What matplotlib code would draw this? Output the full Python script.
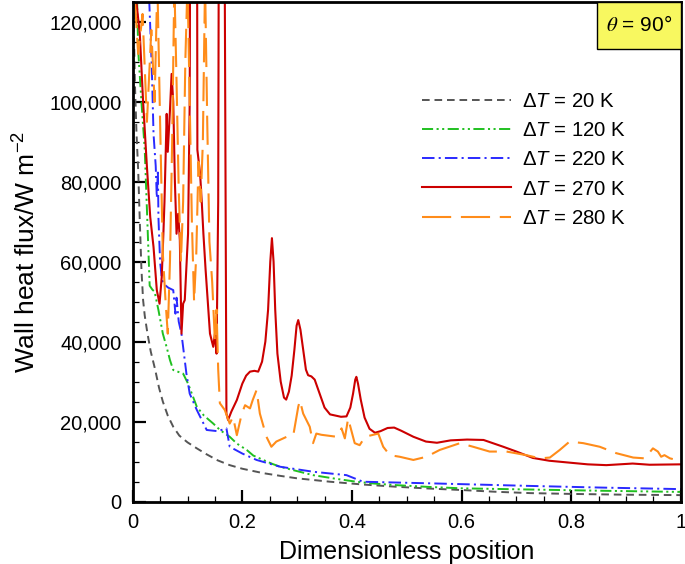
import matplotlib
matplotlib.use("Agg")
import matplotlib.pyplot as plt
from matplotlib.patches import Rectangle
from matplotlib.ticker import MultipleLocator, FuncFormatter

plt.rcParams['font.family'] = ['Liberation Sans', 'DejaVu Sans']
plt.rcParams['mathtext.fontset'] = 'custom'
plt.rcParams['mathtext.rm'] = 'Liberation Sans'
plt.rcParams['mathtext.it'] = 'Liberation Sans:italic'
plt.rcParams['lines.scale_dashes'] = False

# --- data (x: dimensionless position, y: W m^-2) ---
dt20_x = [0.001, 0.004, 0.007, 0.01, 0.013, 0.016, 0.019, 0.022, 0.027, 0.033, 0.041,
          0.048, 0.055, 0.064, 0.074, 0.085, 0.1, 0.117, 0.135, 0.155, 0.177, 0.2,
          0.238, 0.27, 0.3, 0.36, 0.42, 0.48, 0.54, 0.6, 0.66, 0.725, 0.8, 0.9, 1.0]
dt20_y = [126000, 105000, 92000, 83000, 70000, 58000, 50400, 46500, 42000, 37500, 33000,
          28500, 25000, 21500, 18700, 16500, 14800, 13300, 11800, 10300, 9100, 8200,
          7100, 6400, 5800, 4950, 4250, 3700, 3250, 2875, 2450, 2100, 1900, 1700, 1600]

dt120_x = [0.008, 0.01, 0.016, 0.022, 0.026, 0.031, 0.036, 0.04, 0.047, 0.055, 0.062,
           0.068, 0.074, 0.092, 0.101, 0.117, 0.13, 0.147, 0.16, 0.177, 0.19, 0.208,
           0.22, 0.238, 0.255, 0.269, 0.3, 0.329, 0.37, 0.408, 0.44, 0.48, 0.54, 0.6,
           0.725, 0.85, 1.0]
dt120_y = [126000, 113000, 100000, 88000, 73000, 54000, 53000, 52500, 47900, 42000, 38600,
           35400, 32900, 32000, 29500, 23700, 21500, 19500, 17800, 16200, 14500, 12900,
           11500, 10400, 9400, 8700, 7600, 6600, 5700, 4950, 4500, 4100, 3650, 3300,
           3000, 2700, 2400]

dt220_x = [0.03, 0.035, 0.038, 0.042, 0.044, 0.046, 0.047, 0.05, 0.053, 0.056, 0.065,
           0.074, 0.078, 0.08, 0.084, 0.089, 0.098, 0.104, 0.117, 0.135, 0.155,
           0.171, 0.177, 0.2, 0.226, 0.269, 0.329, 0.39, 0.42, 0.542, 0.725, 0.85, 1.0]
dt220_y = [126000, 108000, 92000, 84000, 76000, 83000, 71000, 60000, 56000, 54500, 53500,
           52900, 47000, 51000, 45000, 42000, 32000, 27000, 22900, 17900, 17600,
           18300, 13700, 12000, 10400, 8700, 7450, 6600, 4950, 4550, 3900, 3500, 3100]

dt270_x = [0.006, 0.013, 0.019, 0.026, 0.032, 0.038, 0.044, 0.049, 0.053, 0.056,
           0.058, 0.062, 0.064, 0.068, 0.071, 0.074, 0.077, 0.08, 0.083, 0.086,
           0.089, 0.092, 0.095, 0.101, 0.104, 0.106, 0.117, 0.118, 0.123, 0.126,
           0.129, 0.133, 0.137, 0.141, 0.147, 0.15, 0.153, 0.156, 0.158, 0.166,
           0.171, 0.174, 0.18, 0.19, 0.2, 0.207, 0.214, 0.222, 0.229, 0.236, 0.242,
           0.247, 0.251, 0.254, 0.257, 0.26, 0.264, 0.27, 0.276, 0.28, 0.285, 0.29,
           0.295, 0.299, 0.302, 0.306, 0.311, 0.316, 0.32, 0.326, 0.332, 0.341,
           0.35, 0.36, 0.38, 0.39, 0.397, 0.402, 0.406, 0.408, 0.411, 0.416, 0.423,
           0.432, 0.442, 0.452, 0.465, 0.477, 0.49, 0.512, 0.535, 0.555, 0.58, 0.61,
           0.64, 0.676, 0.7, 0.73, 0.76, 0.791, 0.83, 0.864, 0.9, 0.912, 0.943, 1.0]
dt270_y = [126000, 117000, 100000, 83700, 71200, 63700, 52900, 49500, 56200, 67000,
           75000, 97000, 87500, 97900, 107000, 100000, 80000, 67000, 72000, 65400,
           42000, 49500, 50400, 67000, 100000, 200000, 200000, 88000, 82000, 75000,
           67000, 58000, 50000, 42000, 38700, 42000, 37000, 75000, 200000, 200000,
           22000, 20400, 22500, 25400, 29500, 31500, 32500, 32700, 32500, 35000, 40000,
           48000, 60000, 65900, 60000, 48000, 37000, 30000, 26000, 25500, 27500, 31500,
           38000, 44000, 45400, 43000, 38000, 33000, 31600, 31300, 30500, 27000,
           23500, 21800, 21200, 21300, 23500, 27000, 30500, 31200, 29500, 25500, 21000,
           18200, 17200, 17600, 18400, 18500, 17700, 16200, 15000, 14700, 15300, 15500,
           15400, 13700, 12500, 10900, 10200, 9800, 9300, 9100, 9400, 9500, 9200, 9300]

dt280_x = [0.002, 0.01, 0.018, 0.026, 0.034, 0.04, 0.045, 0.05, 0.055, 0.06, 0.064,
           0.068, 0.072, 0.076, 0.08, 0.084, 0.088, 0.092, 0.096, 0.1, 0.104,
           0.108, 0.112, 0.116, 0.12, 0.124, 0.128, 0.132, 0.136, 0.14, 0.145,
           0.15, 0.153, 0.156, 0.159, 0.168, 0.177, 0.183, 0.19, 0.199, 0.205,
           0.214, 0.219, 0.226, 0.232, 0.244, 0.253, 0.262, 0.281, 0.293, 0.302,
           0.305, 0.311, 0.323, 0.329, 0.335, 0.344, 0.372, 0.381, 0.387, 0.393,
           0.405, 0.414, 0.424, 0.436, 0.448, 0.457, 0.469, 0.487, 0.512, 0.536,
           0.56, 0.597, 0.621, 0.651, 0.682, 0.718, 0.743, 0.761, 0.779, 0.797,
           0.822, 0.852, 0.882, 0.913, 0.934, 0.949, 0.958, 0.964, 0.97, 0.98, 0.986]
dt280_y = [130000, 112000, 122000, 95000, 118000, 100000, 130000, 95000, 62000, 50000, 42000,
           60000, 90000, 130000, 105000, 78000, 60000, 75000, 110000, 130000, 100000,
           70000, 50000, 62000, 85000, 75000, 90000, 130000, 95000, 65000, 55000,
           40000, 48000, 33000, 24600, 22900, 19500, 21200, 16600, 22000, 24100,
           23300, 25400, 27900, 22000, 16200, 13700, 15000, 16200, 16600, 23700,
           25300, 22000, 18700, 14600, 17000, 16700, 16200, 18300, 15800, 20800,
           14600, 14100, 16200, 16600, 17000, 13700, 11600, 11200, 10400, 11200,
           12900, 14600, 13700, 12500, 12500, 11600, 10800, 11000, 12900, 15000,
           14600, 13700, 12100, 11000, 10800, 13300, 12500, 11200, 11600, 10800, 10600]

labels = ['20', '120', '220', '270', '280']

fig = plt.figure(figsize=(6.85, 5.64), dpi=100)
ax = fig.add_axes([0.1937, 0.1108, 0.8003, 0.8857])

ax.plot(dt20_x, dt20_y, color='#555555', lw=1.4, dashes=(5.5, 3.5),
        label=r'$\Delta\mathit{T}$ = ' + labels[0] + ' K')
ax.plot(dt120_x, dt120_y, color='#20c020', lw=1.4, dashes=(8, 2.5, 1.5, 2.5, 1.5, 2.5),
        label=r'$\Delta\mathit{T}$ = ' + labels[1] + ' K')
ax.plot(dt220_x, dt220_y, color='#2a2aff', lw=1.4, dashes=(9, 3, 1.5, 3),
        label=r'$\Delta\mathit{T}$ = ' + labels[2] + ' K')
ax.plot(dt270_x, dt270_y, color='#cc0000', lw=1.5,
        label=r'$\Delta\mathit{T}$ = ' + labels[3] + ' K')
ax.plot(dt280_x, dt280_y, color='#ff8c1a', lw=1.5, dashes=(21, 7),
        label=r'$\Delta\mathit{T}$ = ' + labels[4] + ' K')

ax.set_xlim(0, 1)
ax.set_ylim(0, 125000)
ax.xaxis.set_major_locator(MultipleLocator(0.2))
ax.xaxis.set_minor_locator(MultipleLocator(0.05))
ax.yaxis.set_major_locator(MultipleLocator(20000))
ax.yaxis.set_minor_locator(MultipleLocator(5000))
ax.xaxis.set_major_formatter(FuncFormatter(lambda v, p: '%g' % round(v, 2)))
ax.yaxis.set_major_formatter(FuncFormatter(lambda v, p: '{:,.0f}'.format(v)))
ax.tick_params(which='both', direction='in', top=False, right=False, labelsize=14.5)
ax.tick_params(which='major', length=9, width=1.6, pad=8)
ax.tick_params(which='minor', length=4.5, width=0.9)
for s in ax.spines.values():
    s.set_linewidth(2)

ax.set_xlabel('Dimensionless position', fontsize=18, labelpad=6)
ax.set_ylabel('Wall heat flux/W m$^{-2}$', fontsize=19, labelpad=6)

leg = ax.legend(loc='upper left', bbox_to_anchor=(0.527, 0.82), frameon=False,
                fontsize=14.7, handlelength=4.4, handletextpad=0.5,
                labelspacing=0.5, borderpad=0, borderaxespad=0)

ax.add_patch(Rectangle((0.847, 0.906), 0.153, 0.094, transform=ax.transAxes,
                       facecolor='#f8f860', edgecolor='black', lw=1, zorder=5))
ax.text(0.923, 0.953, r'$\theta$ = 90°', transform=ax.transAxes, ha='center',
        va='center', fontsize=15, math_fontfamily='stix', zorder=6)

fig.savefig('out.png', dpi=100)
